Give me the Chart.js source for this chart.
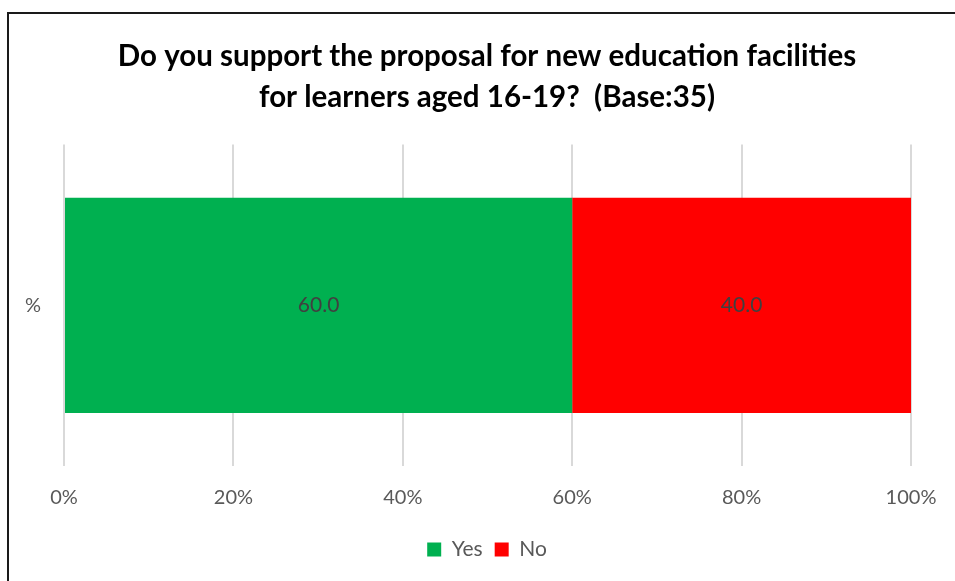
<!DOCTYPE html>
<html>
<head>
<meta charset="utf-8">
<script src="https://cdn.jsdelivr.net/npm/chart.js@4"></script>
<style>
  html, body { margin: 0; padding: 0; background: #fff; }
  #wrap { position: relative; width: 955px; height: 581px; overflow: hidden; }
  #frame { position: absolute; left: 7px; top: 12px; width: 1000px; height: 700px;
           border-left: 2px solid #1a1a1a; border-top: 2px solid #1a1a1a; }
  canvas { position: absolute; left: 0; top: 0; }
</style>
</head>
<body>
<div id="wrap">
  <div id="frame"></div>
  <canvas id="chart" width="955" height="581"></canvas>
</div>
<script>
// survey answers, percent of respondents
const categories = ['%'];
const answers = ['Yes', 'No'];
const yesValues = [60.0];
const noValues = [40.0];
const answerColors = ['#00B050', '#FF0000'];

const titleLines = ['Do you support the proposal for new education facilities', 'for learners aged 16-19?  (Base:35)'];
const FONT = "Lato, 'Liberation Sans', sans-serif";

// writes the value in the middle of each bar segment
const valueLabels = {
    id: 'valueLabels',
    afterDatasetsDraw: function(chart){
        const ctx = chart.ctx;
        ctx.save();
        ctx.font = '21px ' + FONT;
        ctx.fillStyle = '#404040';
        ctx.textAlign = 'center';
        ctx.textBaseline = 'middle';
        chart.data.datasets.forEach(function(ds, i){
            const meta = chart.getDatasetMeta(i);
            meta.data.forEach(function(bar, j){
                const p = bar.getProps(['x', 'base', 'y'], true);
                ctx.fillText(ds.data[j].toFixed(1), (p.x + p.base) / 2, p.y);
            });
        });
        ctx.restore();
    }
};

// category names left of the plot (the y axis itself is kept 1px wide
// so the title centres over the whole frame)
const categoryLabels = {
    id: 'categoryLabels',
    afterDraw: function(chart){
        const ctx = chart.ctx;
        const yScale = chart.scales.y;
        ctx.save();
        ctx.font = '20px ' + FONT;
        ctx.fillStyle = '#595959';
        ctx.textAlign = 'right';
        ctx.textBaseline = 'middle';
        chart.data.labels.forEach(function(label, i){
            ctx.fillText(label, chart.chartArea.left - 23, yScale.getPixelForTick(i));
        });
        ctx.restore();
    }
};

const ctx = document.getElementById('chart').getContext('2d');
const chart = new Chart(ctx, {
    type: 'bar',
    data: {
        labels: categories,
        datasets: [{
            label: answers[0],
            data: yesValues,
            backgroundColor: answerColors[0],
            barPercentage: 0.67,
            categoryPercentage: 1
        },
        {
            label: answers[1],
            data: noValues,
            backgroundColor: answerColors[1],
            barPercentage: 0.67,
            categoryPercentage: 1
        }]
    },
    options: {
        indexAxis: 'y',
        responsive: false,
        animation: false,
        layout: { padding: { left: 63, right: 44, top: 0, bottom: 11 } },
        scales: {
            x: {
                stacked: true,
                min: 0,
                max: 100,
                border: { display: false },
                grid: { color: '#d9d9d9', drawTicks: false, lineWidth: 2 },
                ticks: {
                    stepSize: 20,
                    padding: 20,
                    color: '#595959',
                    font: { family: FONT, size: 20 },
                    callback: function(v){ return v + '%'; }
                },
                afterFit: function(scale){
                    scale.height = 61;
                    scale.paddingRight = 5;
                }
            },
            y: {
                stacked: true,
                border: { display: false },
                grid: { display: false },
                ticks: { display: false },
                afterFit: function(scale){ scale.width = 1; }
            }
        },
        plugins: {
            title: {
                display: true,
                text: titleLines,
                color: '#000',
                font: { family: FONT, size: 29.5, weight: 'bold', lineHeight: 1.4 },
                padding: { top: 36, bottom: 26 }
            },
            legend: {
                position: 'bottom',
                labels: {
                    boxWidth: 14,
                    boxHeight: 14,
                    padding: 12,
                    color: '#595959',
                    font: { family: FONT, size: 21 }
                }
            },
            tooltip: { enabled: false }
        }
    },
    plugins: [valueLabels, categoryLabels]
});
</script>
</body>
</html>
